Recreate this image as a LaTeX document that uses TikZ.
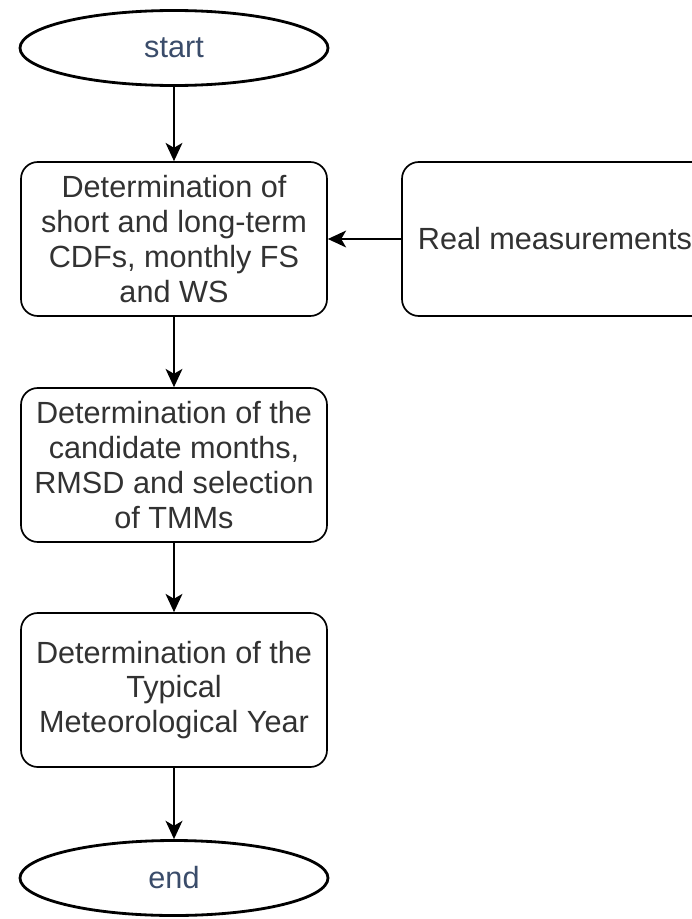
\documentclass[tikz,border=0pt]{standalone}
\usepackage{fontspec}
\setmainfont{Liberation Sans}
\usepackage{tikz}
\usetikzlibrary{arrows.meta,shapes.geometric}
\usetikzlibrary{positioning}
\definecolor{termtext}{RGB}{58,76,106}
\definecolor{boxtext}{RGB}{50,50,50}
\tikzset{
    terminal/.style={
           ellipse,
           draw=black, line width=2pt,
           minimum width=7.7cm,
           minimum height=1.875cm,
           inner sep=0pt,
           text=termtext,
           },
    stage/.style={
           rectangle,
           rounded corners=0.42cm,
           draw=black, line width=1.2pt,
           minimum width=7.65cm,
           minimum height=3.85cm,
           inner sep=2pt,
           align=center,
           text=boxtext,
           },
}

\begin{document}
\begin{tikzpicture}[->,>={Stealth[length=13pt,width=12pt,inset=3.5pt]},
        line width=1.2pt,
        font=\fontsize{21.8}{24.8}\selectfont]
        % fix the page to the size of the reference
        \useasboundingbox (0,0) rectangle (17.3,-22.975);

        % START
        \node[terminal] (START) at (4.35,-1.2) {start};

        % STAGE CDFs
        % below start, distances are centre to centre
        \node[stage,
            below of=START,
            node distance=4.775cm,
            anchor=center] (CDF)
        {Determination of\\
         short and long-term\\
         CDFs, monthly FS\\
         and WS};

        % MEASUREMENTS (runs past the right edge)
        \node[stage,
            right of=CDF,
            node distance=9.525cm,
            anchor=center] (MEAS)
        {Real measurements};

        % STAGE TMMs
        \node[stage,
            below of=CDF,
            node distance=5.65cm,
            anchor=center] (TMM)
        {Determination of the\\
         candidate months,\\
         RMSD and selection\\
         of TMMs};

        % STAGE TMY
        \node[stage,
            below of=TMM,
            node distance=5.625cm,
            anchor=center] (TMY)
        {Determination of the\\
         Typical\\
         Meteorological Year};

        % END
        \node[terminal,
            below of=TMY,
            node distance=4.7cm,
            anchor=center] (STOP) {end};

        % connect the stages
        \path
        (START) edge (CDF)
        (MEAS)  edge (CDF)
        (CDF)   edge (TMM)
        (TMM)   edge (TMY)
        (TMY)   edge (STOP)
        ;

\end{tikzpicture}
\end{document}
